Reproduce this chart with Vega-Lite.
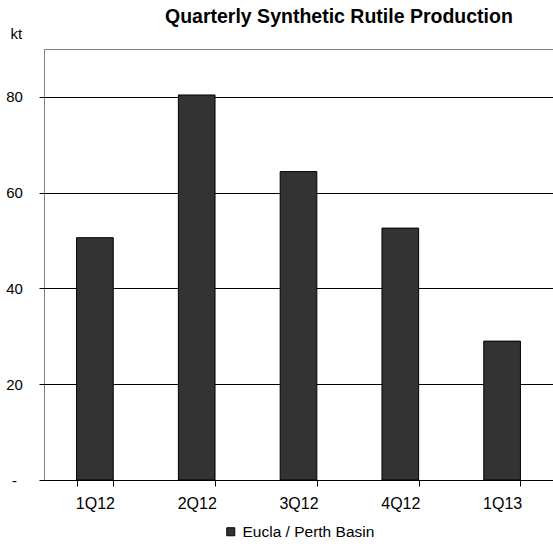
{
  "$schema": "https://vega.github.io/schema/vega-lite/v6.json",
  "autosize": {"type": "none"},
  "width": 509,
  "height": 431,
  "padding": {"left": 44, "top": 49, "right": 0, "bottom": 68},
  "background": "white",
  "title": {
    "text": "Quarterly Synthetic Rutile Production",
    "anchor": "start",
    "frame": "group",
    "dx": 121,
    "dy": 5,
    "font": "Liberation Sans Narrow, Liberation Sans, Arial",
    "fontSize": 19.5,
    "fontWeight": "bold",
    "color": "#000000"
  },
  "data": {
    "values": [
      {"quarter": "1Q12", "series": "Eucla / Perth Basin", "kt": 50.6},
      {"quarter": "2Q12", "series": "Eucla / Perth Basin", "kt": 80.4},
      {"quarter": "3Q12", "series": "Eucla / Perth Basin", "kt": 64.4},
      {"quarter": "4Q12", "series": "Eucla / Perth Basin", "kt": 52.6},
      {"quarter": "1Q13", "series": "Eucla / Perth Basin", "kt": 29.0}
    ]
  },
  "mark": {"type": "bar", "stroke": "#000000", "strokeWidth": 1},
  "encoding": {
    "x": {
      "field": "quarter",
      "type": "nominal",
      "sort": null,
      "scale": {"paddingInner": 0.64, "paddingOuter": 0.32},
      "axis": {
        "title": null,
        "labelAngle": 0,
        "labelFont": "Liberation Sans, Arial",
        "labelFontSize": 16,
        "labelColor": "#000000",
        "labelPadding": 9,
        "tickBand": "extent",
        "tickSize": 6,
        "tickColor": "#000000",
        "domainColor": "#000000",
        "grid": false
      }
    },
    "y": {
      "field": "kt",
      "type": "quantitative",
      "scale": {"domain": [0, 90], "nice": false},
      "axis": {
        "title": "kt",
        "titleAngle": 0,
        "titleX": -34,
        "titleY": -16,
        "titleAlign": "left",
        "titleBaseline": "middle",
        "titleFont": "Liberation Sans, Arial",
        "titleFontSize": 15,
        "titleFontWeight": "normal",
        "titleColor": "#000000",
        "values": [0, 20, 40, 60, 80],
        "labelExpr": "datum.value == 0 ? '-' : datum.label",
        "labelFont": "Liberation Sans, Arial",
        "labelFontSize": 15,
        "labelColor": "#000000",
        "labelAlign": "center",
        "labelPadding": 25,
        "tickSize": 5,
        "tickColor": "#000000",
        "domain": false,
        "grid": true,
        "gridColor": "#000000",
        "gridWidth": 1
      }
    },
    "color": {
      "field": "series",
      "type": "nominal",
      "scale": {"range": ["#333333"]},
      "legend": {
        "title": null,
        "orient": "none",
        "legendX": 179,
        "legendY": 475,
        "symbolType": "square",
        "symbolSize": 64,
        "symbolStrokeColor": "#000000",
        "symbolStrokeWidth": 1,
        "symbolOpacity": 1,
        "labelFont": "Liberation Sans, Arial",
        "labelFontSize": 15.5,
        "labelColor": "#000000",
        "labelOffset": 4
      }
    }
  },
  "config": {
    "view": {"stroke": "#808080", "strokeWidth": 1}
  }
}
